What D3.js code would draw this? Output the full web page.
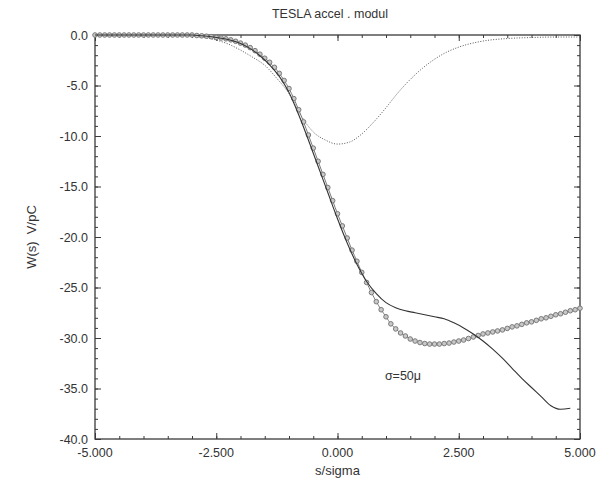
<!DOCTYPE html>
<html><head><meta charset="utf-8">
<script src="https://cdn.jsdelivr.net/npm/d3@7"></script>
<style>body{margin:0;background:#fff}svg{display:block}text{font-family:"Liberation Sans",Arial,sans-serif;fill:#333;white-space:pre}</style>
</head><body>
<script>
// ---- data ----
const title = "TESLA accel . modul";
const xLabel = "s/sigma";
const yLabel = "W(s)  V/pC";
const note = "\u03c3=50\u03bc";
const xTicks = [-5, -2.5, 0, 2.5, 5];
const yTicks = [0, -5, -10, -15, -20, -25, -30, -35, -40];

// circle-marked curve, s = -5.0 .. 5.0 step 0.1
const circS = d3.range(101).map(i => -5 + i * 0.1);
const circW = [
  0,0,0,0,0,0,0,0,0,0, 0,0,0,0,0,0,0,0,0,0, 0,
  -0.05,-0.08,-0.12,-0.17,-0.23,-0.3,-0.38,-0.48,-0.62,-0.8,
  -1.0,-1.25,-1.55,-1.9,-2.3,-2.7,-3.2,-3.8,-4.5,-5.3,
  -6.3,-7.4,-8.6,-9.9,-11.2,-12.5,-13.8,-15.1,-16.4,-17.7,
  -18.9,-20.1,-21.3,-22.4,-23.5,-24.5,-25.5,-26.4,-27.2,-27.9,
  -28.6,-29.1,-29.5,-29.8,-30.1,-30.3,-30.45,-30.55,-30.6,-30.6,
  -30.6,-30.55,-30.5,-30.4,-30.3,-30.2,-30.05,-29.9,-29.75,-29.6,
  -29.5,-29.4,-29.3,-29.2,-29.05,-28.9,-28.8,-28.65,-28.5,-28.4,
  -28.25,-28.1,-28.0,-27.85,-27.7,-27.6,-27.45,-27.3,-27.2,-27.05
];
// solid curve, s = -5.0 .. 4.8 step 0.2
const solidS = d3.range(50).map(i => -5 + i * 0.2);
const solidW = [
  0,0,0,0,0,0,0,0,0,0,0,
  -0.08,-0.18,-0.32,-0.52,-0.85,-1.35,-2.05,-2.95,-4.1,-5.7,
  -7.9,-10.4,-13.0,-15.6,-18.2,-20.6,-22.7,-24.4,-25.6,-26.5,
  -27.0,-27.3,-27.5,-27.7,-27.9,-28.1,-28.5,-29.0,-29.6,-30.3,
  -31.1,-32.0,-33.0,-34.0,-34.9,-35.8,-36.7,-37.05,-36.95
];
// dotted curve
const dotS = [-5,-4,-3.5,-3,-2.75,-2.5,-2.25,-2,-1.75,-1.5,-1.25,-1,-0.75,-0.5,-0.25,0,0.25,0.5,0.75,1,1.25,1.5,1.75,2,2.25,2.5,3,3.5,4,4.5,5];
const dotW = [0,0,0,-0.1,-0.25,-0.5,-0.9,-1.5,-2.2,-3.0,-4.3,-5.8,-8.0,-9.6,-10.4,-10.8,-10.6,-9.8,-8.6,-7.2,-5.7,-4.4,-3.3,-2.4,-1.7,-1.2,-0.6,-0.35,-0.25,-0.2,-0.2];

// ---- chart ----
const W = 612, H = 483;
const L = 95, R = 580, T = 35, B = 439;
const svg = d3.select("body").append("svg").attr("width", W).attr("height", H);
const x = d3.scaleLinear().domain([-5, 5]).range([L, R]);
const y = d3.scaleLinear().domain([0, -40]).range([T, B]);
const ink = "#3a3a3a";
const hy = s => s.replace(/\u2212/g, "-");

// ticks (inward, all four sides)
const g = svg.append("g");
function axis(gen, tx, ty, vals, len) {
  const a = g.append("g").attr("transform", `translate(${tx},${ty})`)
    .call(gen.tickValues(vals).tickSize(len).tickFormat(""));
  a.select(".domain").remove();
  a.selectAll("line").attr("stroke", ink).attr("stroke-width", 1);
}
const xMinor = d3.range(-5, 5.001, 0.5);
const yMinor = d3.range(0, -40.001, -1);
axis(d3.axisTop(x), 0, B, xMinor, 3);
axis(d3.axisTop(x), 0, B, xTicks, 6);
axis(d3.axisBottom(x), 0, T, xMinor, 3);
axis(d3.axisBottom(x), 0, T, xTicks, 6);
axis(d3.axisRight(y), L, 0, yMinor, 3);
axis(d3.axisRight(y), L, 0, yTicks, 6);
axis(d3.axisLeft(y), R, 0, yMinor, 3);
axis(d3.axisLeft(y), R, 0, yTicks, 6);

svg.append("rect").attr("x", L).attr("y", T).attr("width", R - L).attr("height", B - T)
  .attr("fill", "none").attr("stroke", ink).attr("stroke-width", 1.3);

// tick labels
svg.selectAll(".xl").data(xTicks).enter().append("text")
  .attr("x", d => x(d)).attr("y", B + 18).attr("text-anchor", "middle")
  .attr("font-size", 12.5).text(d => hy(d3.format(".3f")(d)));
svg.selectAll(".yl").data(yTicks).enter().append("text")
  .attr("x", L - 7).attr("y", d => y(d) + 4.5).attr("text-anchor", "end")
  .attr("font-size", 12.5).text(d => hy(d3.format(".1f")(d)));

svg.append("text").attr("x", 330).attr("y", 18).attr("text-anchor", "middle")
  .attr("font-size", 12.5).text(title);
svg.append("text").attr("x", (L + R) / 2).attr("y", 475).attr("text-anchor", "middle")
  .attr("font-size", 13).text(xLabel);
svg.append("text").attr("transform", `translate(36,${(T + B) / 2}) rotate(-90)`)
  .attr("text-anchor", "middle").attr("font-size", 13).text(yLabel);
svg.append("text").attr("x", x(1.35)).attr("y", y(-34.2)).attr("text-anchor", "middle")
  .attr("font-size", 12.5).text(note);

// curves
const line = d3.line().x(d => x(d[0])).y(d => y(d[1]));
svg.append("path").datum(dotS.map((s, i) => [s, dotW[i]]))
  .attr("d", line.curve(d3.curveMonotoneX)).attr("fill", "none")
  .attr("stroke", "#555").attr("stroke-width", 1).attr("stroke-dasharray", "1,1.6");

const circData = circS.map((s, i) => [s, circW[i]]);
svg.append("path").datum(circData).attr("d", line.curve(d3.curveMonotoneX))
  .attr("fill", "none").attr("stroke", "#7a7a7a").attr("stroke-width", 1);
svg.selectAll(".c").data(circData).enter().append("circle")
  .attr("cx", d => x(d[0])).attr("cy", d => y(d[1])).attr("r", 2.3)
  .attr("fill", "#c8c8c8").attr("stroke", "#7a7a7a").attr("stroke-width", 1);

svg.append("path").datum(solidS.map((s, i) => [s, solidW[i]]))
  .attr("d", line.curve(d3.curveMonotoneX)).attr("fill", "none")
  .attr("stroke", "#333").attr("stroke-width", 1.1);
</script>
</body></html>
